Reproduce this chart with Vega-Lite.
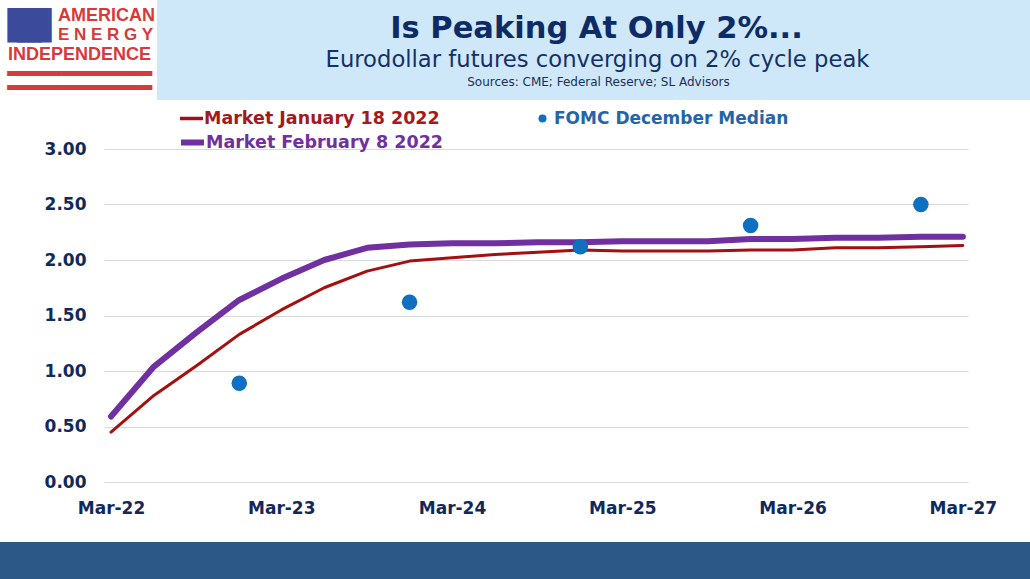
{
  "$schema": "https://vega.github.io/schema/vega-lite/v6.json",
  "padding": 0,
  "spacing": 1,
  "background": "white",
  "config": {
    "view": {"stroke": null},
    "font": "DejaVu Sans"
  },
  "datasets": {
    "rates": [
      {"series": "Market January 18 2022", "date": "2022-03-01", "value": 0.45},
      {"series": "Market January 18 2022", "date": "2022-06-01", "value": 0.78},
      {"series": "Market January 18 2022", "date": "2022-09-01", "value": 1.05},
      {"series": "Market January 18 2022", "date": "2022-12-01", "value": 1.33},
      {"series": "Market January 18 2022", "date": "2023-03-01", "value": 1.55},
      {"series": "Market January 18 2022", "date": "2023-06-01", "value": 1.75},
      {"series": "Market January 18 2022", "date": "2023-09-01", "value": 1.9},
      {"series": "Market January 18 2022", "date": "2023-12-01", "value": 1.99},
      {"series": "Market January 18 2022", "date": "2024-03-01", "value": 2.02},
      {"series": "Market January 18 2022", "date": "2024-06-01", "value": 2.05},
      {"series": "Market January 18 2022", "date": "2024-09-01", "value": 2.07},
      {"series": "Market January 18 2022", "date": "2024-12-01", "value": 2.09},
      {"series": "Market January 18 2022", "date": "2025-03-01", "value": 2.08},
      {"series": "Market January 18 2022", "date": "2025-06-01", "value": 2.08},
      {"series": "Market January 18 2022", "date": "2025-09-01", "value": 2.08},
      {"series": "Market January 18 2022", "date": "2025-12-01", "value": 2.09},
      {"series": "Market January 18 2022", "date": "2026-03-01", "value": 2.09},
      {"series": "Market January 18 2022", "date": "2026-06-01", "value": 2.11},
      {"series": "Market January 18 2022", "date": "2026-09-01", "value": 2.11},
      {"series": "Market January 18 2022", "date": "2026-12-01", "value": 2.12},
      {"series": "Market January 18 2022", "date": "2027-03-01", "value": 2.13},
      {"series": "Market February 8 2022", "date": "2022-03-01", "value": 0.59},
      {"series": "Market February 8 2022", "date": "2022-06-01", "value": 1.04},
      {"series": "Market February 8 2022", "date": "2022-09-01", "value": 1.35},
      {"series": "Market February 8 2022", "date": "2022-12-01", "value": 1.64},
      {"series": "Market February 8 2022", "date": "2023-03-01", "value": 1.83},
      {"series": "Market February 8 2022", "date": "2023-06-01", "value": 2.0},
      {"series": "Market February 8 2022", "date": "2023-09-01", "value": 2.11},
      {"series": "Market February 8 2022", "date": "2023-12-01", "value": 2.14},
      {"series": "Market February 8 2022", "date": "2024-03-01", "value": 2.15},
      {"series": "Market February 8 2022", "date": "2024-06-01", "value": 2.15},
      {"series": "Market February 8 2022", "date": "2024-09-01", "value": 2.16},
      {"series": "Market February 8 2022", "date": "2024-12-01", "value": 2.16},
      {"series": "Market February 8 2022", "date": "2025-03-01", "value": 2.17},
      {"series": "Market February 8 2022", "date": "2025-06-01", "value": 2.17},
      {"series": "Market February 8 2022", "date": "2025-09-01", "value": 2.17},
      {"series": "Market February 8 2022", "date": "2025-12-01", "value": 2.19},
      {"series": "Market February 8 2022", "date": "2026-03-01", "value": 2.19},
      {"series": "Market February 8 2022", "date": "2026-06-01", "value": 2.2},
      {"series": "Market February 8 2022", "date": "2026-09-01", "value": 2.2},
      {"series": "Market February 8 2022", "date": "2026-12-01", "value": 2.21},
      {"series": "Market February 8 2022", "date": "2027-03-01", "value": 2.21},
      {"series": "FOMC December Median", "date": "2022-12-01", "value": 0.89},
      {"series": "FOMC December Median", "date": "2023-12-01", "value": 1.62},
      {"series": "FOMC December Median", "date": "2024-12-01", "value": 2.12},
      {"series": "FOMC December Median", "date": "2025-12-01", "value": 2.31},
      {"series": "FOMC December Median", "date": "2026-12-01", "value": 2.5}
    ]
  },
  "vconcat": [
    {
      "spacing": 0,
      "bounds": "flush",
      "hconcat": [
        {
          "width": 157,
          "height": 100,
          "layer": [
            {
              "data": {"values": [{"label": "■"}]},
              "mark": {"type": "text", "font": "DejaVu Sans", "fontSize": 45, "color": "#3b4a9b", "dx": -54, "dy": -27, "baseline": "middle"},
              "encoding": {"text": {"field": "label"}}
            },
            {
              "data": {"values": [{"label": "■"}]},
              "mark": {"type": "text", "font": "DejaVu Sans", "fontSize": 45, "color": "#3b4a9b", "dx": -44, "dy": -27, "baseline": "middle"},
              "encoding": {"text": {"field": "label"}}
            },
            {
              "data": {"values": [{"label": "AMERICAN"}]},
              "mark": {"type": "text", "font": "Liberation Sans", "fontSize": 18, "fontWeight": "bold", "color": "#d8393a", "dx": 28, "dy": -34, "baseline": "middle"},
              "encoding": {"text": {"field": "label"}}
            },
            {
              "data": {"values": [{"label": "E N E R G Y"}]},
              "mark": {"type": "text", "font": "Liberation Sans", "fontSize": 17, "fontWeight": "bold", "color": "#d8393a", "dx": 27, "dy": -15, "baseline": "middle"},
              "encoding": {"text": {"field": "label"}}
            },
            {
              "data": {"values": [{"label": "INDEPENDENCE"}]},
              "mark": {"type": "text", "font": "Liberation Sans", "fontSize": 18, "fontWeight": "bold", "color": "#d8393a", "dx": 1, "dy": 5, "baseline": "middle"},
              "encoding": {"text": {"field": "label"}}
            },
            {
              "data": {"values": [{"label": "━━━━━━━━"}, {"label": "━━━━━━━━ "}]},
              "mark": {"type": "text", "font": "DejaVu Sans", "fontSize": 30, "color": "#d8393a", "dx": 1, "baseline": "middle"},
              "encoding": {
                "text": {"field": "label"},
                "y": {"field": "label", "type": "nominal", "axis": null, "scale": {"type": "point", "range": [75, 89], "padding": 0}}
              }
            }
          ]
        },
        {
          "width": 873,
          "height": 100,
          "view": {"fill": "#cfe8f9", "stroke": null},
          "layer": [
            {
              "data": {"values": [{"label": "Is Peaking At Only 2%..."}]},
              "mark": {"type": "text", "font": "DejaVu Sans", "fontSize": 30.5, "fontWeight": "bold", "color": "#0d2b66", "dx": 3, "dy": -12, "baseline": "alphabetic"},
              "encoding": {"text": {"field": "label"}}
            },
            {
              "data": {"values": [{"label": "Eurodollar futures converging on 2% cycle peak"}]},
              "mark": {"type": "text", "font": "DejaVu Sans", "fontSize": 22.7, "color": "#14306a", "dx": 4, "dy": 17, "baseline": "alphabetic"},
              "encoding": {"text": {"field": "label"}}
            },
            {
              "data": {"values": [{"label": "Sources: CME; Federal Reserve; SL Advisors"}]},
              "mark": {"type": "text", "font": "DejaVu Sans", "fontSize": 12, "color": "#1c2f55", "dx": 5, "dy": 36, "baseline": "alphabetic"},
              "encoding": {"text": {"field": "label"}}
            }
          ]
        }
      ]
    },
    {
      "spacing": 0,
      "bounds": "flush",
      "hconcat": [
        {"width": 104, "height": 333, "data": {"values": []}, "mark": "point"},
        {
          "width": 864,
          "height": 333,
          "data": {"name": "rates"},
          "encoding": {
            "x": {
              "field": "date",
              "type": "temporal",
              "scale": {
                "type": "utc",
                "domain": [
                  {"year": 2022, "month": 2, "date": 14, "utc": true},
                  {"year": 2027, "month": 3, "date": 12, "utc": true}
                ]
              },
              "axis": {
                "title": null,
                "format": "%b-%y",
                "values": [
                  {"year": 2022, "month": 3, "date": 1, "utc": true},
                  {"year": 2023, "month": 3, "date": 1, "utc": true},
                  {"year": 2024, "month": 3, "date": 1, "utc": true},
                  {"year": 2025, "month": 3, "date": 1, "utc": true},
                  {"year": 2026, "month": 3, "date": 1, "utc": true},
                  {"year": 2027, "month": 3, "date": 1, "utc": true}
                ],
                "domain": false,
                "ticks": false,
                "grid": false,
                "labelFont": "DejaVu Sans",
                "labelFontSize": 17,
                "labelFontWeight": "bold",
                "labelColor": "#10295c",
                "labelPadding": 18,
                "labelFlush": false,
                "labelOverlap": false
              }
            },
            "y": {
              "field": "value",
              "type": "quantitative",
              "scale": {"domain": [0, 3], "nice": false},
              "axis": {
                "title": null,
                "values": [0, 0.5, 1, 1.5, 2, 2.5, 3],
                "format": ".2f",
                "domain": false,
                "ticks": false,
                "gridColor": "#d9d9d9",
                "gridWidth": 1,
                "labelFont": "DejaVu Sans",
                "labelFontSize": 17,
                "labelFontWeight": "bold",
                "labelColor": "#10295c",
                "labelPadding": 18
              }
            }
          },
          "layer": [
            {
              "transform": [{"filter": "datum.series === 'Market January 18 2022'"}],
              "mark": {"type": "line", "strokeWidth": 3, "strokeCap": "round", "strokeJoin": "round"},
              "encoding": {
                "color": {
                  "field": "series",
                  "type": "nominal",
                  "scale": {"range": ["#a50f0f"]},
                  "legend": {
                    "orient": "none", "legendX": 74, "legendY": -44, "title": null,
                    "symbolType": "stroke", "symbolSize": 529, "symbolStrokeWidth": 3.5,
                    "labelFont": "DejaVu Sans", "labelFontSize": 17.5, "labelFontWeight": "bold",
                    "labelColor": "#a31a1a", "labelOffset": -1, "labelLimit": 400
                  }
                }
              }
            },
            {
              "transform": [{"filter": "datum.series === 'Market February 8 2022'"}],
              "mark": {"type": "line", "strokeWidth": 6, "strokeCap": "round", "strokeJoin": "round"},
              "encoding": {
                "color": {
                  "field": "series",
                  "type": "nominal",
                  "scale": {"range": ["#7030a0"]},
                  "legend": {
                    "orient": "none", "legendX": 74, "legendY": -21, "title": null,
                    "symbolType": "stroke", "symbolSize": 529, "symbolStrokeWidth": 6,
                    "labelFont": "DejaVu Sans", "labelFontSize": 17.5, "labelFontWeight": "bold",
                    "labelColor": "#7030a0", "labelOffset": -1, "labelLimit": 400
                  }
                }
              }
            },
            {
              "transform": [{"filter": "datum.series === 'FOMC December Median'"}],
              "mark": {"type": "circle", "size": 240, "opacity": 1},
              "encoding": {
                "color": {
                  "field": "series",
                  "type": "nominal",
                  "scale": {"range": ["#0f6fc0"]},
                  "legend": {
                    "orient": "none", "legendX": 430, "legendY": -39, "title": null,
                    "symbolType": "circle", "symbolSize": 64,
                    "labelFont": "DejaVu Sans", "labelFontSize": 17, "labelFontWeight": "bold",
                    "labelColor": "#2465a8", "labelOffset": 3, "labelLimit": 400
                  }
                }
              }
            }
          ],
          "resolve": {"scale": {"color": "independent"}}
        }
      ]
    },
    {"width": 1030, "height": 24, "data": {"values": []}, "mark": "point"},
    {"width": 1030, "height": 37, "view": {"fill": "#2b5886", "stroke": null}, "data": {"values": []}, "mark": "point"}
  ]
}
